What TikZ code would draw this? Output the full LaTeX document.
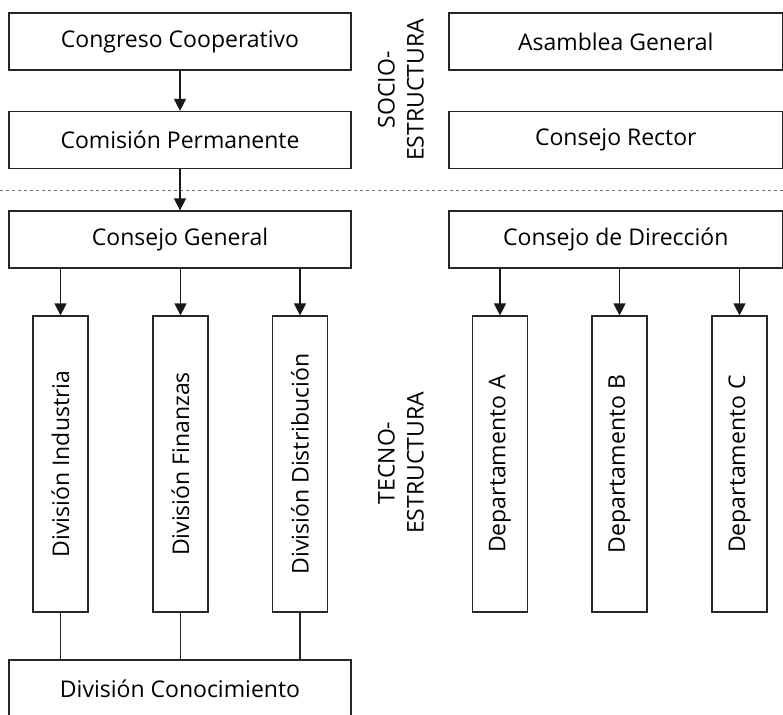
\documentclass[tikz,border=0pt]{standalone}
\usepackage{fontspec}
\setmainfont{Open Sans}
\usetikzlibrary{arrows.meta}
\begin{document}
\begin{tikzpicture}[x=1pt,y=-1pt,
  every node/.style={font=\fontsize{23}{27}\selectfont, text=black},
  box/.style={draw=black!85, line width=1.2pt, inner sep=0pt, align=center},
  hbox/.style={box, minimum width=342pt, minimum height=57pt},
  rbox/.style={box, minimum width=333.5pt, minimum height=57pt},
  vbox/.style={box, minimum width=55pt, minimum height=296pt},
  vtext/.style={rotate=90, inner sep=0pt},
  side/.style={rotate=90, align=center, inner sep=0pt, font=\fontsize{23}{29}\selectfont},
  arr/.style={draw=black!90, line width=1.2pt, -{Triangle[width=12pt,length=12pt]}},
  ln/.style={draw=black!85, line width=1.2pt},
  sep/.style={draw=black!55, line width=0.9pt, dash pattern=on 3pt off 3pt}]
\useasboundingbox (0,0) rectangle (783,714);

% left column
\node[hbox] (cong) at (180,41.5) {Congreso Cooperativo};
\node[hbox] (comi) at (180,140) {Comisión Permanente};
\node[hbox] (cgen) at (180,239.5) {Consejo General};
\node[vbox] (ind) at (60.5,464) {};
\node[vtext] at (ind.center) {División Industria};
\node[vbox] (fin) at (180.5,464) {};
\node[vtext] at (fin.center) {División Finanzas};
\node[vbox] (dis) at (300,464) {};
\node[vtext] at (dis.center) {División Distribución};
\node[hbox] (cono) at (180,688.5) {División Conocimiento};

% right column
\node[rbox] (asam) at (615.8,41.5) {Asamblea General};
\node[rbox] (rect) at (615.8,140) {Consejo Rector};
\node[rbox] (cdir) at (615.8,239.5) {Consejo de Dirección};
\node[vbox] (da) at (500,464) {};
\node[vtext] at (da.center) {Departamento A};
\node[vbox] (db) at (619.5,464) {};
\node[vtext] at (db.center) {Departamento B};
\node[vbox] (dc) at (739.5,464) {};
\node[vtext] at (dc.center) {Departamento C};

% side labels
\node[side] (socio) at (401,90) {SOCIO-\\ESTRUCTURA};
\node[side] (tecno) at (401,463) {TECNO-\\ESTRUCTURA};

% separator
\coordinate (sepL) at (0,190);
\coordinate (sepR) at (783,190);
\draw[sep] (sepL) -- (sepR);

% connectors
\draw[arr] (cong.south) -- (comi.north);
\draw[arr] (comi.south) -- (cgen.north);
\foreach \n in {ind,fin,dis}{
  \draw[arr] (\n.north |- cgen.south) -- (\n.north);
  \draw[ln] (\n.south) -- (\n.south |- cono.north);
}
\foreach \n in {da,db,dc}{
  \draw[arr] (\n.north |- cdir.south) -- (\n.north);
}
\end{tikzpicture}
\end{document}
